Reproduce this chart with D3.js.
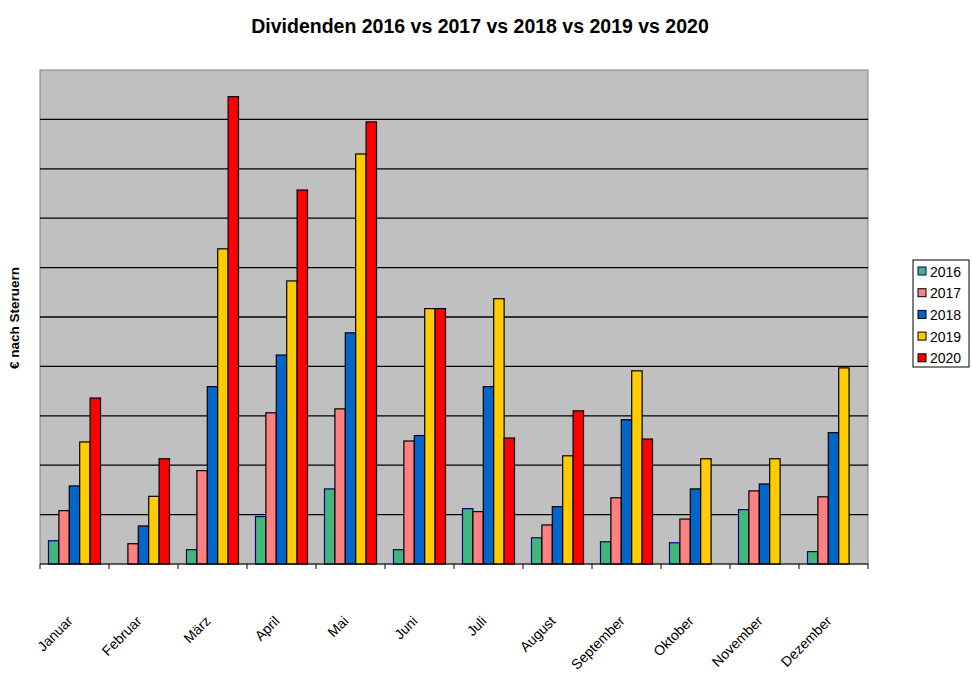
<!DOCTYPE html>
<html>
<head>
<meta charset="utf-8">
<script src="https://cdn.jsdelivr.net/npm/d3@7"></script>
<style>
  body { margin: 0; background: #fff; }
  text { font-family: "Liberation Sans", Arial, sans-serif; }
</style>
</head>
<body>
<svg id="chart" width="972" height="688"></svg>
<script>
const months = ["Januar","Februar","März","April","Mai","Juni","Juli","August","September","Oktober","November","Dezember"];
const years = ["2016","2017","2018","2019","2020"];
const colors = ["#43B77A","#FF8080","#0066CC","#FFCC00","#FF0000"];
const strokes = ["#000080","#000000","#000000","#000000","#000000"];
const v2016 = [4.7, 0, 2.9, 9.6, 15.2, 2.9, 11.2, 5.3, 4.5, 4.3, 11.0, 2.5];
const v2017 = [10.8, 4.1, 18.9, 30.6, 31.4, 24.9, 10.6, 7.9, 13.4, 9.1, 14.8, 13.6];
const v2018 = [15.8, 7.7, 35.9, 42.3, 46.8, 26.0, 35.9, 11.6, 29.2, 15.2, 16.2, 26.6];
const v2019 = [24.7, 13.7, 63.8, 57.3, 83.0, 51.7, 53.7, 21.9, 39.1, 21.3, 21.3, 39.7];
const v2020 = [33.6, 21.3, 94.6, 75.7, 89.5, 51.7, 25.5, 31.0, 25.3, 0, 0, 0];
const series = [v2016, v2017, v2018, v2019, v2020];
const yTicks = [0,10,20,30,40,50,60,70,80,90,100];

const svg = d3.select("#chart");
const L = 40, R = 868, T = 70, B = 564;

const x = d3.scaleBand().domain(months).range([L, R]).paddingInner(0.246).paddingOuter(0.123);
const xs = d3.scaleBand().domain(years).range([0, x.bandwidth()]).padding(0);
const y = d3.scaleLinear().domain([0, 100]).range([B, T]);

// plot area
svg.append("rect").attr("x", L).attr("y", T).attr("width", R - L).attr("height", B - T)
  .attr("fill", "#C0C0C0").attr("stroke", "#808080").attr("stroke-width", 1);

// gridlines
svg.append("g").selectAll("line").data(yTicks.slice(1, -1)).join("line")
  .attr("x1", L).attr("x2", R).attr("y1", d => y(d)).attr("y2", d => y(d))
  .attr("stroke", "#000").attr("stroke-width", 1.3);

// bars
years.forEach((yr, i) => {
  svg.append("g").selectAll("rect").data(months.map((m, j) => ({m, v: series[i][j]})).filter(d => d.v > 0))
    .join("rect")
    .attr("x", d => x(d.m) + xs(yr))
    .attr("y", d => y(d.v))
    .attr("width", xs.bandwidth())
    .attr("height", d => B - y(d.v))
    .attr("fill", colors[i])
    .attr("stroke", strokes[i])
    .attr("stroke-width", 1.2);
});

// x axis line & ticks
svg.append("line").attr("x1", L).attr("x2", R).attr("y1", B).attr("y2", B).attr("stroke", "#000").attr("stroke-width", 1);
const step = x.step();
svg.append("g").selectAll("line").data(d3.range(months.length + 1)).join("line")
  .attr("x1", i => L + i * step).attr("x2", i => L + i * step)
  .attr("y1", B).attr("y2", B + 5).attr("stroke", "#000");

// x labels
svg.append("g").selectAll("text").data(months).join("text")
  .attr("transform", d => `translate(${x(d) + x.bandwidth() / 2 - 1},${622}) rotate(-45)`)
  .attr("text-anchor", "end")
  .attr("font-size", 14)
  .attr("fill", "#000")
  .text(d => d);

// title
svg.append("text").attr("x", 480).attr("y", 33).attr("text-anchor", "middle")
  .attr("font-size", 19.5).attr("font-weight", "bold").text("Dividenden 2016 vs 2017 vs 2018 vs 2019 vs 2020");

// y label
svg.append("text").attr("transform", "translate(19,318) rotate(-90)").attr("text-anchor", "middle")
  .attr("font-size", 13.5).attr("font-weight", "bold").text("€ nach Steruern");

// legend
const lg = svg.append("g");
lg.append("rect").attr("x", 913).attr("y", 260).attr("width", 56).attr("height", 107)
  .attr("fill", "#fff").attr("stroke", "#000").attr("stroke-width", 1);
years.forEach((yr, i) => {
  const cy = 271.5 + i * 21.7;
  lg.append("rect").attr("x", 918).attr("y", cy - 4.5).attr("width", 8).attr("height", 8)
    .attr("fill", colors[i]).attr("stroke", strokes[i]).attr("stroke-width", 1);
  lg.append("text").attr("x", 930).attr("y", cy + 5).attr("font-size", 14).text(yr);
});
</script>
</body>
</html>
